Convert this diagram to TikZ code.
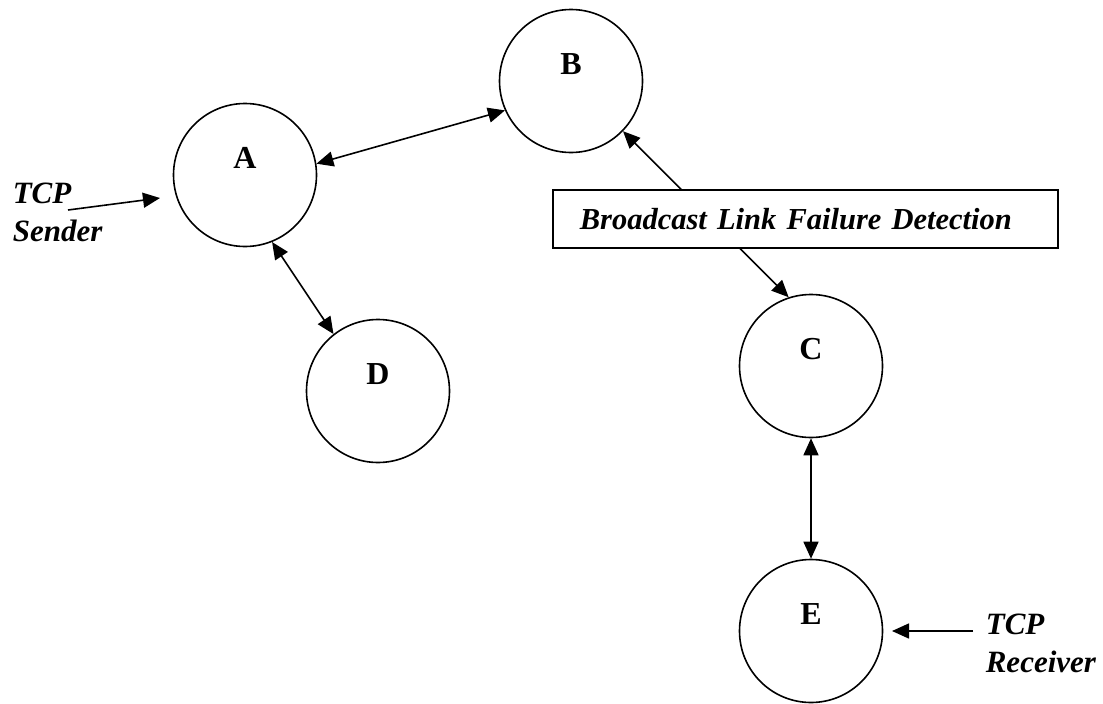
\documentclass[tikz,border=0pt]{standalone}
\usepackage{fontspec}
\setmainfont{Liberation Serif}
\usetikzlibrary{arrows.meta,positioning}

\begin{document}
\begin{tikzpicture}[x=1pt,y=-1pt,line width=1.6pt,
    >={Triangle[length=17pt,width=15pt]},
    station/.style={draw,circle,minimum size=143pt,inner sep=0pt},
    letter/.style={label={[font=\fontsize{32}{38}\selectfont\bfseries,yshift=17pt]center:#1}},
    tag/.style={align=left,inner sep=0pt,anchor=north west,font=\fontsize{31}{38}\selectfont\bfseries\itshape},
    banner/.style={draw,fill=white,anchor=north west,inner xsep=27pt,inner ysep=0pt,
        text width=451pt,minimum height=58pt,align=left,font=\fontsize{30.5}{38}\selectfont\bfseries\itshape}
    ]
    \useasboundingbox (0,0) rectangle (1103,704);

    \node (A) [station,letter=A] at (245,175) {};
    \node (B) [station,letter=B] at (571,81) {};
    \node (C) [station,letter=C] at (811,366) {};
    \node (D) [station,letter=D] at (378,391) {};
    \node (E) [station,letter=E] at (811,631) {};

    \node (snd) [tag] at (12,182) {TCP\\Sender};
    \node (rcv) [tag] at (985,613) {TCP\\Receiver};
    \coordinate (sndtail) at (68,210);
    \coordinate (sndtip) at (160,198);
    \coordinate (rcvtail) at (973,631);
    \coordinate (rcvtip) at (892,631);

    % the edges
    \draw[<->] (A.9) -- (B.204);
    \draw[<->] (A.-68) -- (D.128);
    \draw[<->] (B.-44) -- (C.108);
    \draw[<->] (C.south) -- (E.north);
    \draw[->] (sndtail) -- (sndtip);
    \draw[->] (rcvtail) -- (rcvtip);

    \node (bcast) [banner] at (552,189) {Broadcast Link Failure Detection};
\end{tikzpicture}
\end{document}
